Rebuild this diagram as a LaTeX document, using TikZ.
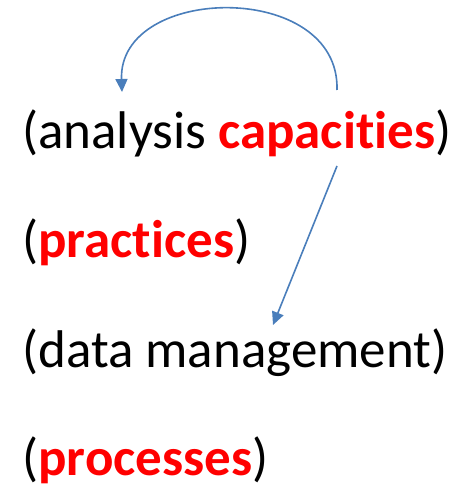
\documentclass[tikz,border=0pt]{standalone}
\usepackage{fontspec}
\setmainfont{Carlito}[Ligatures=NoCommon]
\usepackage{tikz}
\usetikzlibrary{arrows.meta}
\definecolor{arrowblue}{RGB}{74,126,187}
\definecolor{keyred}{RGB}{255,0,0}

\begin{document}
\begin{tikzpicture}[x=1pt,y=-1pt,>={Triangle[length=13pt,width=12pt]},semithick]
  \tikzstyle{line}=[anchor=base west,inner sep=0pt,font=\fontsize{53}{60}\selectfont]
  \tikzstyle{link}=[->,arrowblue,line width=1.6pt]

  \useasboundingbox (0,0) rectangle (460,484);

  \node[line] (AC) at (22,148) {(analysis {\color{keyred}\bfseries capacities})};
  \node[line] (PR) at (22,257) {({\color{keyred}\bfseries practices})};
  \node[line] (DM) at (22,367) {(data management)};
  \node[line] (PS) at (22,475) {({\color{keyred}\bfseries processes})};

  \coordinate (top)   at (337,90);
  \coordinate (back)  at (122,92);
  \coordinate (under) at (337,166);
  \coordinate (down)  at (273,325);

  \draw[link] (top) .. controls (340,-20) and (118,-16) .. (back);
  \draw[link] (under) -- (down);
\end{tikzpicture}
\end{document}
